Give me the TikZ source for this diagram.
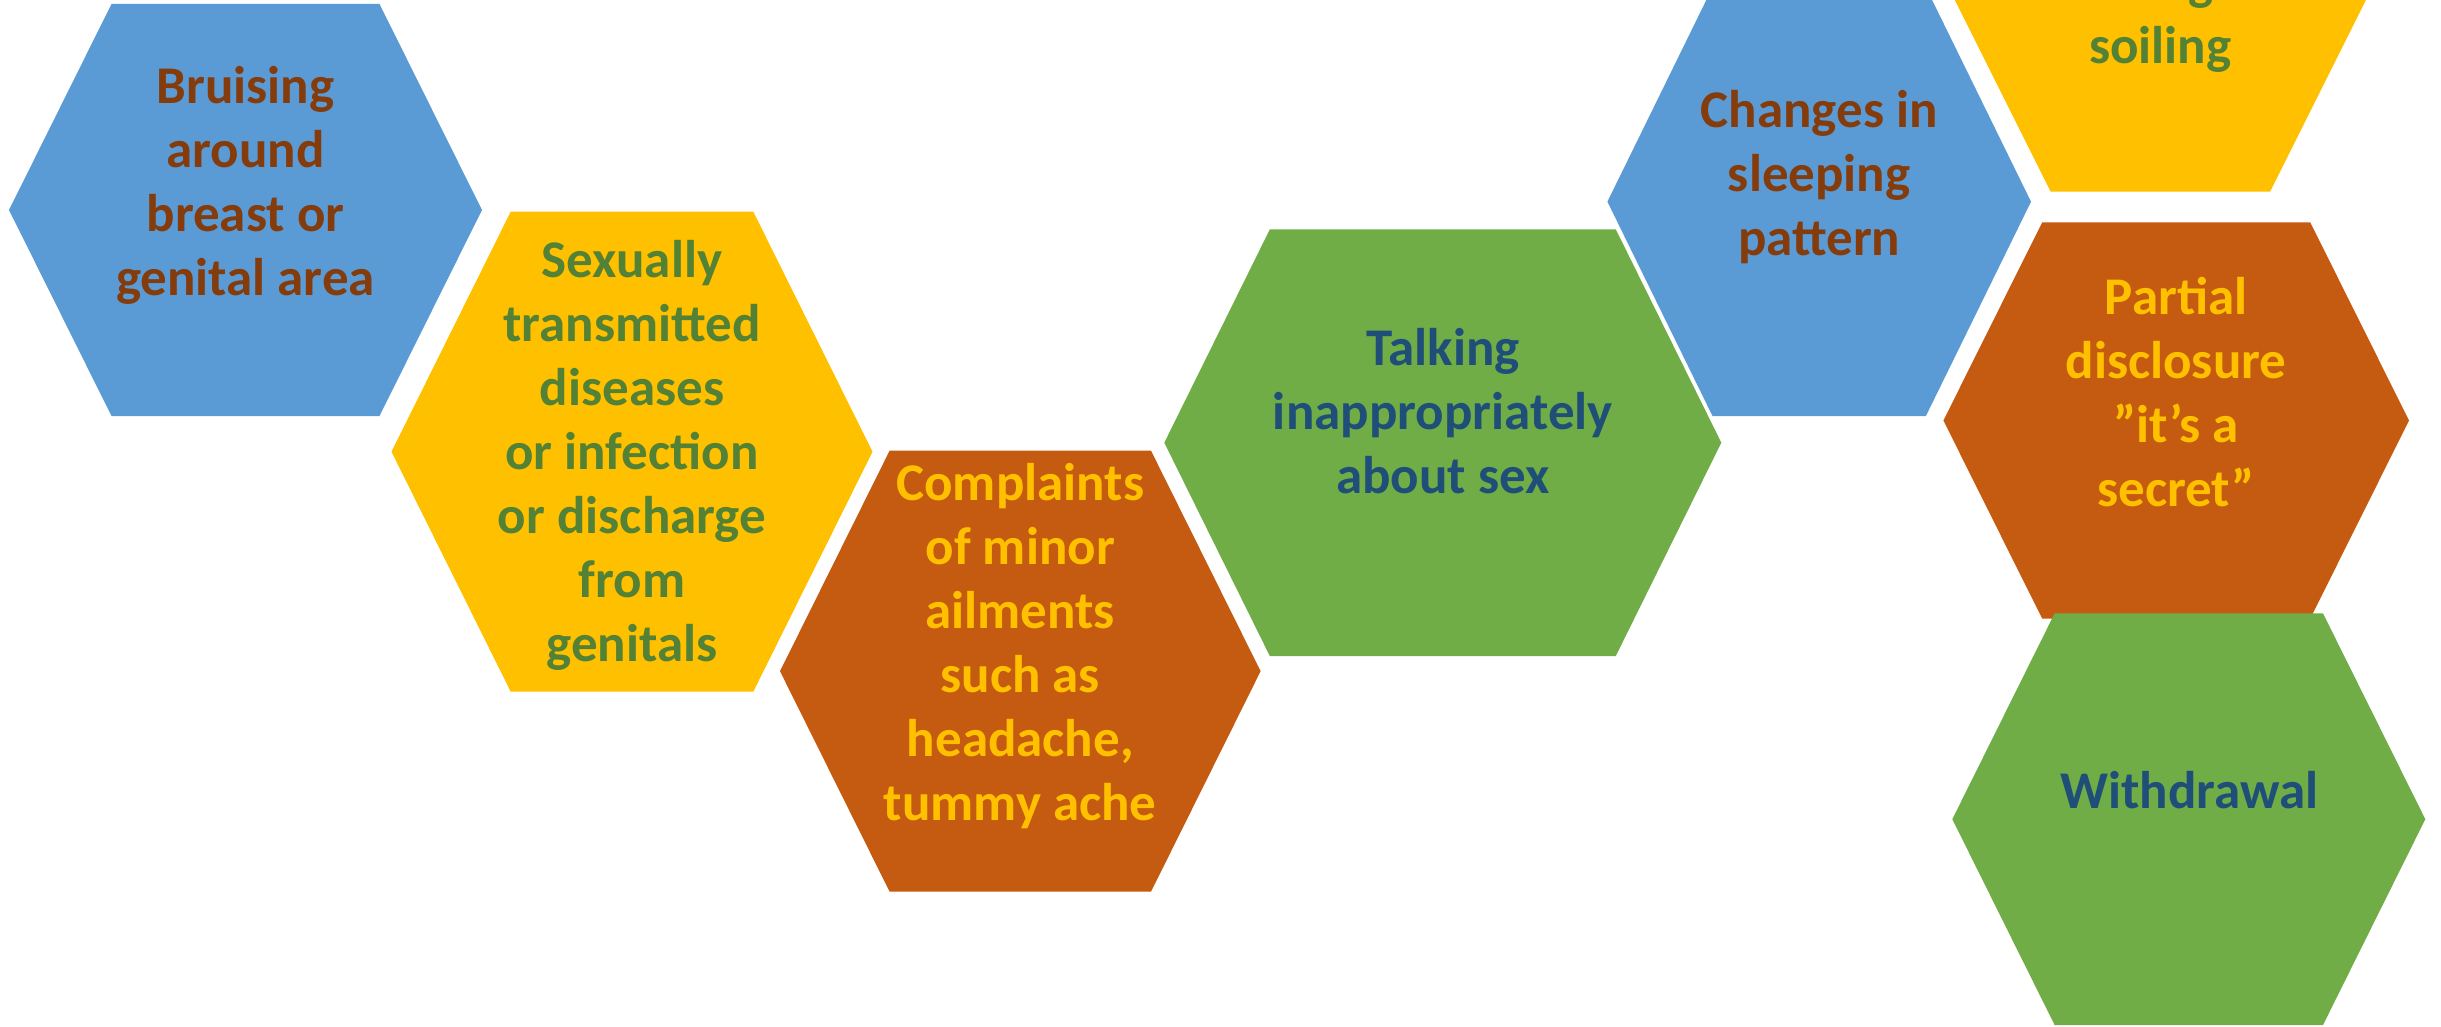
\documentclass[tikz,border=0pt]{standalone}
\usepackage{fontspec}
\setmainfont{Carlito}

\definecolor{cellblue}{HTML}{5B9BD5}
\definecolor{cellyellow}{HTML}{FFC000}
\definecolor{cellorange}{HTML}{C55A11}
\definecolor{cellgreen}{HTML}{70AD47}
\definecolor{inkbrown}{HTML}{843C0C}
\definecolor{inkgreen}{HTML}{538135}
\definecolor{inkyellow}{HTML}{FFC000}
\definecolor{inknavy}{HTML}{1F4E79}

\newcommand\cellfont{\fontsize{13.25pt}{16pt}\selectfont\bfseries}

% hexagon: centre (#1,#2), half-width #3, half-height #4, side inset #5, fill #6
\newcommand\hexcell[6]{%
  \fill[#6] (#1-#3,#2) -- (#1-#3+#5,#2-#4) -- (#1+#3-#5,#2-#4)
    -- (#1+#3,#2) -- (#1+#3-#5,#2+#4) -- (#1-#3+#5,#2+#4) -- cycle;}

\begin{document}
\begin{tikzpicture}[x=0.25pt,y=-0.25pt,
  celltext/.style={align=center, inner sep=0pt, font=\cellfont}]
\useasboundingbox (0,0) rectangle (2441,1027);
\fill[white] (0,0) rectangle (2441,1027);
\clip (0,0) rectangle (2441,1027);

% cells, back to front
\hexcell{245.5}{210}{236.5}{206}{102.5}{cellblue}
\hexcell{632}{451.7}{240.5}{240}{119.2}{cellyellow}
\hexcell{1020.3}{671.2}{240.3}{220.5}{109.6}{cellorange}
\hexcell{1442.8}{442.7}{278.5}{213.3}{105.5}{cellgreen}
\hexcell{1819.2}{201.7}{211.8}{214.3}{105.1}{cellblue}
\hexcell{2160.3}{0.5}{205.3}{191.2}{95.6}{cellyellow}
\hexcell{2176.2}{420.5}{232.8}{198}{98.7}{cellorange}
\hexcell{2188.8}{819.2}{236.5}{205.8}{102.3}{cellgreen}

% labels
\node[celltext, text=inkbrown] (bruising) at (245.5,186.4)
  {\strut Bruising\\\strut around\\\strut breast or\\\strut genital area};
\node[celltext, text=inkgreen] (sti) at (632,456.7)
  {\strut Sexually\\\strut transmitted\\\strut diseases\\\strut or infection\\\strut or discharge\\\strut from\\\strut genitals};
\node[celltext, text=inkyellow] (ailments) at (1020.3,647.5)
  {\strut Complaints\\\strut of minor\\\strut ailments\\\strut such as\\\strut headache,\\\strut tummy ache};
\node[celltext, text=inknavy] (talking) at (1442.8,416.4)
  {\strut Talking\\\strut inappropriately\\\strut about sex};
\node[celltext, text=inkbrown] (sleeping) at (1819.2,178.5)
  {\strut Changes in\\\strut sleeping\\\strut pattern};
\node[celltext, text=inkgreen] (soiling) at (2160.3,-13.5)
  {\strut Bed\\\strut wetting or\\\strut soiling};
\node[celltext, text=inkyellow] (disclosure) at (2176,397.2)
  {\strut Partial\\\strut disclosure\\\strut ”it’s a\\\strut secret”};
\node[celltext, text=inknavy] (withdrawal) at (2189.2,795.5)
  {\strut Withdrawal};
\end{tikzpicture}
\end{document}
